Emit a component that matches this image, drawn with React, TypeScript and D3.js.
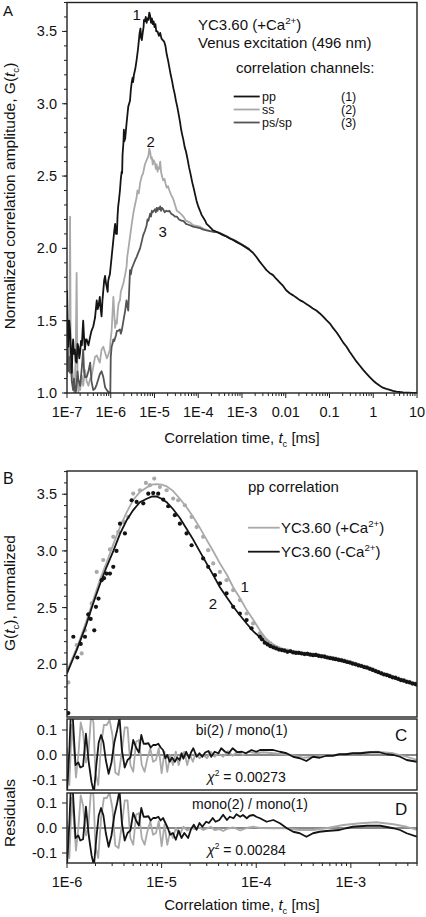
import React from "react";
import * as d3 from "d3";

const FONT = "'Liberation Sans', Arial, Helvetica, sans-serif";

// ---------- Panel A data: [log10(tc / ms), G(tc)] ----------
const ppA: [number, number][] = [
  [-7.0, 1.71], [-6.985, 1.45], [-6.97, 1.32], [-6.95, 1.5], [-6.93, 1.43], [-6.91, 1.28], [-6.89, 1.14], [-6.875, 1.3],
  [-6.86, 1.37], [-6.84, 1.27], [-6.82, 1.3], [-6.8, 1.22], [-6.78, 1.21], [-6.76, 1.34], [-6.74, 1.32], [-6.72, 1.24],
  [-6.7, 1.28], [-6.68, 1.36], [-6.66, 1.33], [-6.645, 1.42], [-6.63, 1.5], [-6.61, 1.38], [-6.59, 1.3], [-6.57, 1.37],
  [-6.55, 1.37], [-6.51, 1.33], [-6.47, 1.39], [-6.44, 1.43], [-6.4, 1.46], [-6.36, 1.52], [-6.32, 1.64], [-6.3, 1.58],
  [-6.28, 1.6], [-6.25, 1.665], [-6.23, 1.58], [-6.21, 1.53], [-6.19, 1.64], [-6.17, 1.71], [-6.15, 1.78], [-6.13, 1.81],
  [-6.11, 1.76], [-6.09, 1.73], [-6.07, 1.7], [-6.06, 1.77], [-6.04, 1.8], [-6.02, 1.82], [-6.0, 1.88], [-5.98, 1.94],
  [-5.96, 2.0], [-5.94, 2.06], [-5.92, 2.12], [-5.9, 2.17], [-5.88, 2.1], [-5.86, 2.1], [-5.845, 2.22], [-5.83, 2.29],
  [-5.81, 2.34], [-5.79, 2.4], [-5.77, 2.48], [-5.75, 2.53], [-5.74, 2.52], [-5.73, 2.65], [-5.71, 2.73], [-5.7, 2.82],
  [-5.69, 2.74], [-5.67, 2.76], [-5.64, 2.86], [-5.6, 2.98], [-5.56, 3.02], [-5.54, 3.1], [-5.52, 3.15], [-5.5, 3.18],
  [-5.49, 3.15], [-5.47, 3.2], [-5.44, 3.24], [-5.41, 3.3], [-5.38, 3.37], [-5.36, 3.43], [-5.34, 3.49], [-5.32, 3.52],
  [-5.31, 3.46], [-5.29, 3.44], [-5.27, 3.49], [-5.25, 3.53], [-5.24, 3.58], [-5.22, 3.57], [-5.2, 3.6], [-5.18, 3.56],
  [-5.16, 3.59], [-5.14, 3.58], [-5.12, 3.63], [-5.1, 3.61], [-5.08, 3.56], [-5.06, 3.59], [-5.04, 3.55], [-5.02, 3.57],
  [-5.0, 3.53], [-4.98, 3.55], [-4.96, 3.5], [-4.93, 3.5], [-4.9, 3.47], [-4.87, 3.49], [-4.84, 3.45], [-4.81, 3.44],
  [-4.78, 3.43], [-4.75, 3.4], [-4.72, 3.34], [-4.69, 3.3], [-4.66, 3.25], [-4.63, 3.2], [-4.6, 3.16], [-4.57, 3.11],
  [-4.54, 3.07], [-4.51, 3.02], [-4.48, 2.98], [-4.45, 2.93], [-4.42, 2.88], [-4.39, 2.82], [-4.37, 2.79], [-4.34, 2.75],
  [-4.31, 2.7], [-4.28, 2.67], [-4.24, 2.61], [-4.21, 2.56], [-4.18, 2.52], [-4.14, 2.46], [-4.1, 2.41], [-4.07, 2.37],
  [-4.04, 2.33], [-4.0, 2.29], [-3.96, 2.26], [-3.92, 2.23], [-3.88, 2.21], [-3.84, 2.19], [-3.81, 2.17], [-3.76, 2.155],
  [-3.71, 2.14], [-3.66, 2.125], [-3.62, 2.12], [-3.55, 2.11], [-3.48, 2.1], [-3.42, 2.09], [-3.35, 2.082], [-3.28, 2.068],
  [-3.2, 2.058], [-3.13, 2.045], [-3.05, 2.032], [-2.98, 2.02], [-2.9, 2.005], [-2.83, 1.99], [-2.75, 1.97], [-2.67, 1.94],
  [-2.6, 1.91], [-2.52, 1.88], [-2.44, 1.85], [-2.37, 1.83], [-2.29, 1.815], [-2.22, 1.79], [-2.14, 1.765], [-2.06, 1.74],
  [-1.99, 1.71], [-1.91, 1.69], [-1.83, 1.675], [-1.76, 1.66], [-1.68, 1.642], [-1.6, 1.63], [-1.53, 1.615], [-1.45, 1.6],
  [-1.38, 1.585], [-1.3, 1.57], [-1.22, 1.55], [-1.15, 1.53], [-1.07, 1.504], [-0.99, 1.48], [-0.92, 1.45], [-0.84, 1.42],
  [-0.77, 1.389], [-0.69, 1.35], [-0.61, 1.32], [-0.54, 1.285], [-0.46, 1.251], [-0.39, 1.22], [-0.31, 1.19], [-0.23, 1.16],
  [-0.16, 1.136], [-0.08, 1.11], [0.0, 1.085], [0.07, 1.067], [0.15, 1.05], [0.22, 1.037], [0.3, 1.028], [0.38, 1.021],
  [0.45, 1.015], [0.53, 1.01], [0.61, 1.007], [0.68, 1.005], [0.8, 1.003], [0.9, 1.001], [1.0, 1.0],
];

const ssA: [number, number][] = [
  [-7.0, 1.11], [-6.985, 1.36], [-6.97, 1.3], [-6.95, 1.26], [-6.93, 2.22], [-6.915, 1.3], [-6.9, 1.15], [-6.89, 1.22],
  [-6.86, 1.1], [-6.84, 1.0], [-6.82, 1.04], [-6.8, 1.3], [-6.78, 1.83], [-6.76, 1.1], [-6.74, 1.0], [-6.72, 1.08],
  [-6.7, 1.02], [-6.66, 1.12], [-6.63, 1.05], [-6.59, 1.16], [-6.55, 1.08], [-6.51, 1.05], [-6.47, 1.1], [-6.44, 1.11],
  [-6.4, 1.18], [-6.36, 1.25], [-6.32, 1.26], [-6.28, 1.23], [-6.25, 1.21], [-6.21, 1.3], [-6.17, 1.32], [-6.13, 1.28],
  [-6.09, 1.24], [-6.06, 1.26], [-6.02, 1.3], [-6.0, 1.38], [-5.98, 1.43], [-5.96, 1.55], [-5.94, 1.665], [-5.92, 1.55],
  [-5.9, 1.45], [-5.88, 1.5], [-5.86, 1.48], [-5.84, 1.57], [-5.82, 1.62], [-5.79, 1.64], [-5.77, 1.7], [-5.75, 1.72],
  [-5.71, 1.76], [-5.67, 1.82], [-5.64, 1.87], [-5.62, 1.95], [-5.6, 1.99], [-5.56, 2.08], [-5.52, 2.17], [-5.48, 2.25],
  [-5.44, 2.31], [-5.41, 2.35], [-5.39, 2.4], [-5.36, 2.38], [-5.33, 2.45], [-5.29, 2.5], [-5.26, 2.52], [-5.22, 2.58],
  [-5.18, 2.61], [-5.14, 2.64], [-5.12, 2.69], [-5.1, 2.67], [-5.08, 2.62], [-5.06, 2.63], [-5.04, 2.58], [-5.02, 2.61],
  [-4.99, 2.59], [-4.97, 2.55], [-4.95, 2.58], [-4.93, 2.53], [-4.91, 2.56], [-4.89, 2.55], [-4.87, 2.6], [-4.85, 2.53],
  [-4.83, 2.5], [-4.8, 2.47], [-4.77, 2.48], [-4.75, 2.45], [-4.72, 2.42], [-4.69, 2.43], [-4.66, 2.4], [-4.62, 2.37],
  [-4.57, 2.34], [-4.53, 2.3], [-4.49, 2.26], [-4.44, 2.25], [-4.37, 2.23], [-4.34, 2.22], [-4.28, 2.19], [-4.19, 2.18],
  [-4.12, 2.16], [-4.04, 2.155], [-3.96, 2.15], [-3.88, 2.135], [-3.81, 2.128], [-3.73, 2.12], [-3.66, 2.115],
  [-3.55, 2.113], [-3.42, 2.095], [-3.28, 2.073], [-3.13, 2.05], [-2.98, 2.025], [-2.83, 1.995],
];

const psA: [number, number][] = [
  [-7.0, 1.21], [-6.985, 1.32], [-6.97, 1.15], [-6.95, 1.25], [-6.93, 1.14], [-6.91, 1.2], [-6.89, 1.08], [-6.86, 1.02],
  [-6.84, 1.1], [-6.82, 1.02], [-6.8, 1.0], [-6.78, 1.06], [-6.76, 1.15], [-6.74, 1.09], [-6.7, 1.05], [-6.66, 1.18],
  [-6.63, 1.3], [-6.61, 1.15], [-6.59, 1.11], [-6.55, 1.11], [-6.51, 1.15], [-6.47, 1.21], [-6.44, 1.08], [-6.4, 1.02],
  [-6.36, 1.03], [-6.32, 1.06], [-6.28, 1.1], [-6.25, 1.13], [-6.21, 1.15], [-6.17, 1.11], [-6.13, 1.04], [-6.09, 1.02],
  [-6.06, 1.01], [-6.03, 1.0], [-6.01, 1.0], [-6.0, 1.25], [-5.98, 1.32], [-5.96, 1.34], [-5.94, 1.37], [-5.92, 1.36],
  [-5.9, 1.38], [-5.88, 1.4], [-5.86, 1.43], [-5.83, 1.43], [-5.79, 1.44], [-5.77, 1.41], [-5.75, 1.43], [-5.71, 1.5],
  [-5.67, 1.57], [-5.64, 1.64], [-5.62, 1.6], [-5.6, 1.57], [-5.58, 1.7], [-5.56, 1.85], [-5.54, 1.82], [-5.52, 1.86],
  [-5.48, 1.89], [-5.44, 1.92], [-5.41, 1.94], [-5.37, 1.97], [-5.33, 2.0], [-5.29, 2.05], [-5.26, 2.09], [-5.22, 2.12],
  [-5.18, 2.16], [-5.16, 2.2], [-5.14, 2.19], [-5.1, 2.24], [-5.08, 2.22], [-5.06, 2.26], [-5.04, 2.25], [-4.99, 2.27],
  [-4.97, 2.25], [-4.95, 2.28], [-4.93, 2.26], [-4.91, 2.28], [-4.89, 2.27], [-4.87, 2.29], [-4.85, 2.26], [-4.83, 2.28],
  [-4.8, 2.27], [-4.77, 2.25], [-4.73, 2.26], [-4.69, 2.255], [-4.66, 2.26], [-4.62, 2.24], [-4.57, 2.23], [-4.53, 2.22],
  [-4.49, 2.22], [-4.44, 2.2], [-4.37, 2.19], [-4.34, 2.19], [-4.28, 2.17], [-4.19, 2.16], [-4.12, 2.15], [-4.04, 2.145],
  [-3.96, 2.14], [-3.88, 2.13], [-3.81, 2.125], [-3.73, 2.12], [-3.66, 2.115], [-3.55, 2.11], [-3.42, 2.092],
  [-3.28, 2.07], [-3.13, 2.048], [-2.98, 2.022], [-2.83, 1.993],
];

const xTicksA = [1e-7, 1e-6, 1e-5, 1e-4, 1e-3, 0.01, 0.1, 1, 10];
const xTickLabelsA = ["1E-7", "1E-6", "1E-5", "1E-4", "1E-3", "0.01", "0.1", "1", "10"];
const yTicksA = [1.0, 1.5, 2.0, 2.5, 3.0, 3.5];
const yTickLabelsA = ["1.0", "1.5", "2.0", "2.5", "3.0", "3.5"];

// ---------- Panel B data ----------
const fitPlus: [number, number][] = [
  [-6.0, 1.94], [-5.95, 2.04], [-5.9, 2.14], [-5.863, 2.22], [-5.8, 2.37], [-5.722, 2.57], [-5.65, 2.75], [-5.581, 2.9],
  [-5.51, 3.06], [-5.44, 3.21], [-5.37, 3.34], [-5.3, 3.45], [-5.23, 3.52], [-5.158, 3.56], [-5.1, 3.585], [-5.053, 3.59],
  [-5.0, 3.585], [-4.947, 3.57], [-4.88, 3.53], [-4.807, 3.46], [-4.74, 3.39], [-4.666, 3.3], [-4.6, 3.21], [-4.525, 3.1],
  [-4.45, 2.99], [-4.384, 2.89], [-4.31, 2.79], [-4.244, 2.68], [-4.17, 2.58], [-4.102, 2.48], [-4.03, 2.39], [-3.962, 2.3],
  [-3.9, 2.23], [-3.85, 2.19], [-3.754, 2.145], [-3.66, 2.12], [-3.579, 2.105], [-3.49, 2.092], [-3.402, 2.082],
  [-3.31, 2.067], [-3.226, 2.052], [-3.14, 2.037], [-3.051, 2.022], [-2.96, 2.002], [-2.874, 1.982], [-2.79, 1.957],
  [-2.698, 1.927], [-2.61, 1.902], [-2.523, 1.878], [-2.43, 1.852], [-2.346, 1.832], [-2.303, 1.822],
];
const fitMinus: [number, number][] = [
  [-6.0, 1.92], [-5.95, 2.02], [-5.9, 2.12], [-5.863, 2.2], [-5.8, 2.34], [-5.722, 2.54], [-5.65, 2.71], [-5.581, 2.86],
  [-5.51, 3.0], [-5.44, 3.15], [-5.37, 3.27], [-5.3, 3.36], [-5.23, 3.43], [-5.158, 3.46], [-5.1, 3.48], [-5.053, 3.48],
  [-5.0, 3.46], [-4.947, 3.43], [-4.88, 3.37], [-4.807, 3.29], [-4.74, 3.2], [-4.666, 3.1], [-4.6, 3.0], [-4.525, 2.89],
  [-4.45, 2.78], [-4.384, 2.68], [-4.31, 2.59], [-4.244, 2.51], [-4.17, 2.43], [-4.102, 2.36], [-4.03, 2.29], [-3.962, 2.24],
  [-3.9, 2.19], [-3.85, 2.16], [-3.754, 2.13], [-3.66, 2.11], [-3.579, 2.1], [-3.49, 2.09], [-3.402, 2.08], [-3.31, 2.065],
  [-3.226, 2.05], [-3.14, 2.035], [-3.051, 2.02], [-2.96, 2.0], [-2.874, 1.98], [-2.79, 1.955], [-2.698, 1.925],
  [-2.61, 1.9], [-2.523, 1.876], [-2.43, 1.85], [-2.346, 1.83], [-2.303, 1.82],
];
const ptsPlus: [number, number][] = [
  [-5.986, 1.84], [-5.898, 2.17], [-5.845, 2.096], [-5.81, 2.3], [-5.739, 2.537], [-5.686, 2.815], [-5.617, 2.92],
  [-5.546, 3.013], [-5.511, 3.124], [-5.458, 3.168], [-5.405, 3.256], [-5.353, 3.3], [-5.3, 3.506], [-5.229, 3.535],
  [-5.166, 3.6], [-5.124, 3.58], [-5.078, 3.638], [-5.018, 3.564], [-4.947, 3.535], [-4.878, 3.462], [-4.825, 3.447],
  [-4.754, 3.403], [-4.683, 3.3], [-4.63, 3.21], [-4.561, 3.124], [-4.508, 3.007], [-4.455, 2.89], [-4.384, 2.815],
  [-4.314, 2.742], [-4.244, 2.654], [-4.173, 2.566], [-4.102, 2.448], [-4.033, 2.36], [-3.962, 2.273],
  [-3.94, 2.25], [-3.91, 2.22], [-3.88, 2.2], [-3.85, 2.185], [-3.82, 2.165], [-3.79, 2.15], [-3.76, 2.14], [-3.73, 2.13],
  [-3.7, 2.125], [-3.67, 2.12], [-3.64, 2.118], [-3.61, 2.11], [-3.58, 2.105], [-3.55, 2.104], [-3.52, 2.098],
  [-3.49, 2.095], [-3.46, 2.095], [-3.43, 2.088], [-3.4, 2.085], [-3.37, 2.086], [-3.34, 2.078], [-3.31, 2.074],
  [-3.28, 2.072], [-3.25, 2.064], [-3.22, 2.06], [-3.19, 2.054], [-3.16, 2.05], [-3.13, 2.044], [-3.1, 2.04],
  [-3.07, 2.032], [-3.04, 2.025], [-3.01, 2.019], [-2.98, 2.01], [-2.95, 2.004], [-2.92, 1.995], [-2.89, 1.989],
  [-2.86, 1.98], [-2.83, 1.974], [-2.8, 1.965], [-2.77, 1.955], [-2.74, 1.945], [-2.71, 1.934], [-2.68, 1.925],
  [-2.65, 1.915], [-2.62, 1.909], [-2.59, 1.9], [-2.56, 1.889], [-2.53, 1.885], [-2.5, 1.875], [-2.47, 1.865],
  [-2.44, 1.86], [-2.41, 1.85], [-2.38, 1.845], [-2.35, 1.835], [-2.32, 1.83],
];
const ptsMinus: [number, number][] = [
  [-5.986, 1.57], [-5.933, 2.243], [-5.891, 2.06], [-5.855, 2.18], [-5.81, 2.243], [-5.775, 2.44], [-5.75, 2.4],
  [-5.712, 2.3], [-5.694, 2.507], [-5.667, 2.58], [-5.634, 2.742], [-5.609, 2.76], [-5.581, 2.8], [-5.546, 2.8],
  [-5.511, 2.86], [-5.477, 3.0], [-5.44, 3.24], [-5.388, 3.154], [-5.317, 3.447], [-5.264, 3.432], [-5.194, 3.42],
  [-5.141, 3.505], [-5.089, 3.51], [-5.036, 3.505], [-4.983, 3.453], [-4.93, 3.394], [-4.86, 3.315], [-4.807, 3.24],
  [-4.736, 3.154], [-4.683, 3.05], [-4.561, 2.934], [-4.508, 2.86], [-4.437, 2.786], [-4.384, 2.713], [-4.314, 2.625],
  [-4.244, 2.507], [-4.173, 2.448], [-4.102, 2.39], [-4.05, 2.317], [-3.962, 2.243],
  [-3.94, 2.22], [-3.91, 2.19], [-3.88, 2.175], [-3.85, 2.16], [-3.82, 2.15], [-3.79, 2.14], [-3.76, 2.13], [-3.73, 2.125],
  [-3.7, 2.12], [-3.67, 2.11], [-3.64, 2.115], [-3.61, 2.105], [-3.58, 2.1], [-3.55, 2.1], [-3.52, 2.095], [-3.49, 2.09],
  [-3.46, 2.092], [-3.43, 2.085], [-3.4, 2.08], [-3.37, 2.083], [-3.34, 2.075], [-3.31, 2.07], [-3.28, 2.068],
  [-3.25, 2.06], [-3.22, 2.055], [-3.19, 2.05], [-3.16, 2.045], [-3.13, 2.04], [-3.1, 2.035], [-3.07, 2.028],
  [-3.04, 2.02], [-3.01, 2.015], [-2.98, 2.005], [-2.95, 2.0], [-2.92, 1.99], [-2.89, 1.985], [-2.86, 1.975],
  [-2.83, 1.97], [-2.8, 1.96], [-2.77, 1.95], [-2.74, 1.94], [-2.71, 1.93], [-2.68, 1.92], [-2.65, 1.91], [-2.62, 1.905],
  [-2.59, 1.895], [-2.56, 1.885], [-2.53, 1.88], [-2.5, 1.87], [-2.47, 1.86], [-2.44, 1.855], [-2.41, 1.845],
  [-2.38, 1.84], [-2.35, 1.83], [-2.32, 1.825], [-2.3, 1.82],
];

const xTicksB = [1e-6, 1e-5, 1e-4, 1e-3];
const xTickLabelsB = ["1E-6", "1E-5", "1E-4", "1E-3"];
const yTicksB = [2.0, 2.5, 3.0, 3.5];
const yTickLabelsB = ["2.0", "2.5", "3.0", "3.5"];

// ---------- Residuals ----------
const resLeftBlack: [number, number][] = [
  [-6.0, -0.15], [-5.975, 0.02], [-5.96, 0.16], [-5.94, 0.16], [-5.91, -0.04], [-5.88, -0.03], [-5.86, -0.05],
  [-5.83, -0.045], [-5.8, 0.085], [-5.77, -0.03], [-5.74, -0.11], [-5.715, -0.15], [-5.69, -0.04], [-5.665, 0.05],
  [-5.64, 0.08], [-5.615, 0.05], [-5.59, -0.02], [-5.56, -0.075], [-5.53, -0.03], [-5.5, 0.05], [-5.47, 0.1],
  [-5.445, 0.15], [-5.42, 0.02], [-5.39, -0.05], [-5.36, -0.02], [-5.33, -0.01], [-5.3, 0.06], [-5.27, 0.03],
  [-5.24, 0.01], [-5.215, 0.08], [-5.19, 0.045], [-5.165, 0.045], [-5.14, 0.047], [-5.115, 0.03], [-5.09, 0.04],
  [-5.06, 0.04], [-5.035, 0.045],
];
const resCBlack: [number, number][] = [
  ...resLeftBlack,
  [-5.01, 0.03], [-4.985, 0.02], [-4.96, -0.013], [-4.94, 0.0], [-4.915, -0.027], [-4.89, -0.01], [-4.86, -0.027],
  [-4.835, -0.01], [-4.81, -0.02], [-4.79, 0.007], [-4.77, -0.015], [-4.74, 0.013], [-4.71, -0.013], [-4.69, 0.01],
  [-4.665, 0.027], [-4.63, -0.007], [-4.6, 0.007], [-4.57, -0.007], [-4.54, 0.01], [-4.505, 0.016], [-4.475, -0.007],
  [-4.44, 0.013], [-4.4, 0.007], [-4.37, 0.027], [-4.33, 0.013], [-4.29, 0.007], [-4.25, 0.027], [-4.2, 0.011],
  [-4.15, 0.013], [-4.11, 0.007], [-4.05, 0.02], [-4.0, 0.013], [-3.96, 0.02], [-3.9, 0.02], [-3.82, 0.02],
  [-3.75, 0.013], [-3.68, 0.007], [-3.61, -0.007], [-3.54, -0.013], [-3.47, -0.024], [-3.4, -0.007], [-3.33, -0.011],
  [-3.26, -0.003], [-3.19, -0.003], [-3.12, 0.003], [-3.05, 0.003], [-2.98, 0.007], [-2.9, 0.007], [-2.8, 0.011],
  [-2.7, 0.011], [-2.62, 0.003], [-2.55, 0.0], [-2.48, -0.007], [-2.41, -0.02], [-2.303, -0.027],
];
const resLeftGray: [number, number][] = [
  [-6.0, 0.03], [-5.975, -0.12], [-5.95, 0.12], [-5.93, 0.04], [-5.905, -0.09], [-5.88, 0.0], [-5.855, 0.13],
  [-5.83, 0.09], [-5.8, -0.03], [-5.775, 0.0], [-5.745, 0.16], [-5.72, 0.13], [-5.7, -0.07], [-5.67, -0.12],
  [-5.64, 0.04], [-5.61, 0.12], [-5.58, 0.12], [-5.55, 0.14], [-5.52, 0.08], [-5.49, -0.07], [-5.455, -0.08],
  [-5.42, 0.013], [-5.39, 0.11], [-5.36, 0.11], [-5.33, -0.04], [-5.3, -0.067], [-5.27, 0.053], [-5.24, 0.06],
  [-5.21, -0.04], [-5.18, -0.067], [-5.15, -0.013], [-5.12, 0.027], [-5.09, -0.027], [-5.06, -0.02], [-5.03, 0.027],
];
const resCGray: [number, number][] = [
  ...resLeftGray,
  [-5.0, -0.073], [-4.97, 0.013], [-4.94, -0.067], [-4.91, 0.0], [-4.88, -0.04], [-4.85, 0.013], [-4.82, -0.04],
  [-4.79, 0.0], [-4.76, 0.013], [-4.73, -0.04], [-4.7, 0.0], [-4.67, -0.027], [-4.64, 0.007], [-4.6, -0.013],
  [-4.56, 0.0], [-4.52, -0.013], [-4.48, 0.013], [-4.44, -0.007], [-4.4, 0.007], [-4.35, -0.007], [-4.3, 0.016],
  [-4.25, -0.003], [-4.2, 0.013], [-4.14, 0.0], [-4.08, 0.013], [-4.0, 0.007], [-3.93, 0.011], [-3.82, 0.007],
  [-3.72, 0.003], [-3.61, 0.0], [-3.5, -0.011], [-3.4, -0.007], [-3.26, -0.003], [-3.08, 0.003], [-2.9, 0.008],
  [-2.73, 0.013], [-2.55, 0.007], [-2.41, -0.007], [-2.303, -0.02],
];
const resDBlack: [number, number][] = [
  ...resLeftBlack,
  [-5.01, 0.03], [-4.985, 0.04], [-4.96, 0.02], [-4.935, 0.0], [-4.91, -0.027], [-4.88, -0.02], [-4.85, -0.047],
  [-4.82, -0.01], [-4.79, -0.04], [-4.76, -0.02], [-4.72, -0.04], [-4.69, -0.005], [-4.66, 0.013], [-4.63, -0.007],
  [-4.6, 0.02], [-4.57, 0.005], [-4.53, 0.025], [-4.5, 0.02], [-4.46, 0.04], [-4.43, 0.025], [-4.39, 0.032],
  [-4.35, 0.053], [-4.31, 0.032], [-4.28, 0.045], [-4.24, 0.039], [-4.21, 0.055], [-4.17, 0.045], [-4.14, 0.052],
  [-4.1, 0.039], [-4.07, 0.049], [-4.03, 0.052], [-4.0, 0.045], [-3.96, 0.039], [-3.89, 0.025], [-3.82, 0.032],
  [-3.75, 0.019], [-3.68, 0.0], [-3.61, -0.015], [-3.54, -0.021], [-3.47, -0.035], [-3.4, -0.021], [-3.33, -0.015],
  [-3.26, -0.012], [-3.12, -0.008], [-3.05, -0.001], [-2.98, 0.005], [-2.83, 0.009], [-2.69, 0.009], [-2.55, -0.001],
  [-2.48, -0.008], [-2.41, -0.021], [-2.303, -0.035],
];
const resDGray: [number, number][] = [
  ...resLeftGray,
  [-5.0, -0.073], [-4.97, 0.013], [-4.94, -0.067], [-4.91, -0.015], [-4.88, -0.04], [-4.85, 0.0], [-4.81, -0.028],
  [-4.77, 0.005], [-4.73, -0.01], [-4.69, 0.0], [-4.65, -0.005], [-4.6, 0.002], [-4.56, -0.008], [-4.52, -0.002],
  [-4.48, 0.005], [-4.44, -0.008], [-4.39, -0.004], [-4.35, -0.012], [-4.3, -0.002], [-4.24, 0.002], [-4.17, -0.01],
  [-4.1, 0.0], [-4.03, 0.005], [-3.96, 0.0], [-3.82, -0.001], [-3.68, -0.001], [-3.54, -0.008], [-3.4, -0.008],
  [-3.26, -0.001], [-3.08, 0.012], [-2.9, 0.019], [-2.73, 0.023], [-2.55, 0.015], [-2.41, 0.005], [-2.303, -0.008],
];
const yTicksRes = [0.1, 0.0, -0.1];
const yTickLabelsRes = ["0.1", "0.0", "-0.1"];

const legendA = [
  { lbl: "pp", n: "(1)" },
  { lbl: "ss", n: "(2)" },
  { lbl: "ps/sp", n: "(3)" },
];

// ---------- colours ----------
const BLACK = "#141414";
const LIGHT = "#a9a9a9";
const DARK = "#545454";
const FRAME = "#222";
const legendAColors = [BLACK, LIGHT, DARK];

// ---------- layout ----------
const L = 67, R = 417;
const A = { top: 2.5, bottom: 393 };
const B = { top: 471, bottom: 717 };
const C = { top: 719, bottom: 790 };
const D = { top: 793, bottom: 863 };

const xA = d3.scaleLog().domain([1e-7, 10]).range([L, R]);
const yA = d3.scaleLinear().domain([1.0, 3.7]).range([A.bottom, A.top]);
const xB = d3.scaleLog().domain([1e-6, 5e-3]).range([L, R]);
const yB = d3.scaleLinear().domain([1.535, 3.705]).range([B.bottom, B.top]);
const yC = d3.scaleLinear().domain([-0.14, 0.144]).range([C.bottom, C.top]);
const yD = d3.scaleLinear().domain([-0.14, 0.14]).range([D.bottom, D.top]);

const t = (lg: number) => Math.pow(10, lg);

function mkLine(x: any, y: any) {
  return d3
    .line<[number, number]>()
    .x((d) => x(t(d[0])))
    .y((d) => y(d[1]));
}

function LogTicksX({ x, y0, majors, labels, labelY }: any) {
  const all = x.ticks();
  const isMajor = (v: number) => Math.abs(Math.log10(v) - Math.round(Math.log10(v))) < 1e-6;
  return (
    <g>
      {all.map((v: number, i: number) => (
        <line key={i} x1={x(v)} x2={x(v)} y1={y0} y2={y0 + (isMajor(v) ? 5 : 3)} stroke={FRAME} strokeWidth={1} />
      ))}
      {labels &&
        majors.map((v: number, i: number) => (
          <text key={"l" + i} x={x(v)} y={labelY} textAnchor="middle" fontSize={14.5} fill="#111">
            {labels[i]}
          </text>
        ))}
    </g>
  );
}

function TicksY({ y, majors, labels, minors }: any) {
  return (
    <g>
      {(minors || []).map((v: number, i: number) => (
        <line key={"m" + i} x1={L - 3} x2={L} y1={y(v)} y2={y(v)} stroke={FRAME} strokeWidth={1} />
      ))}
      {majors.map((v: number, i: number) => (
        <g key={i}>
          <line x1={L - 5} x2={L} y1={y(v)} y2={y(v)} stroke={FRAME} strokeWidth={1} />
          <text x={57} y={y(v) + 5} textAnchor="end" fontSize={14.5} fill="#111">
            {labels[i]}
          </text>
        </g>
      ))}
    </g>
  );
}

function Frame({ top, bottom }: any) {
  return <rect x={L} y={top} width={R - L} height={bottom - top} fill="none" stroke={FRAME} strokeWidth={1.4} />;
}

export default function App() {
  const lineA = mkLine(xA, yA);
  const lineB = mkLine(xB, yB);
  const lineC = mkLine(xB, yC);
  const lineD = mkLine(xB, yD);
  const minorA = yA.ticks(27);
  const minorB = yB.ticks(22).filter((v) => v >= 1.54);

  const sub = (c: string) => (
    <>
      <tspan fontStyle="italic">t</tspan>
      <tspan fontSize="0.62em" dy={4}>
        {c}
      </tspan>
    </>
  );

  const legY = [96.5, 109.5, 122.5];

  return (
    <svg
      width={426}
      height={917}
      viewBox="0 0 426 917"
      style={{ display: "block", position: "absolute", left: 0, top: 0, fontFamily: FONT }}
    >
      <rect x={0} y={0} width={426} height={917} fill="#fff" />
      <defs>
        <clipPath id="cA">
          <rect x={L} y={A.top} width={R - L} height={A.bottom - A.top} />
        </clipPath>
        <clipPath id="cB">
          <rect x={L} y={B.top} width={R - L} height={B.bottom - B.top} />
        </clipPath>
        <clipPath id="cC">
          <rect x={L} y={C.top} width={R - L} height={C.bottom - C.top} />
        </clipPath>
        <clipPath id="cD">
          <rect x={L} y={D.top} width={R - L} height={D.bottom - D.top} />
        </clipPath>
      </defs>

      {/* ===== Panel A ===== */}
      <text x={3} y={16} fontSize={15} fill="#111">A</text>
      <g clipPath="url(#cA)" fill="none" strokeLinejoin="round">
        <path d={lineA(ssA) || ""} stroke={LIGHT} strokeWidth={1.8} />
        <path d={lineA(psA) || ""} stroke={DARK} strokeWidth={1.8} />
        <path d={lineA(ppA) || ""} stroke={BLACK} strokeWidth={1.8} />
      </g>
      <Frame top={A.top} bottom={A.bottom} />
      <TicksY y={yA} majors={yTicksA} labels={yTickLabelsA} minors={minorA} />
      <LogTicksX x={xA} y0={A.bottom} majors={xTicksA} labels={xTickLabelsA} labelY={417} />
      <text x={(L + R) / 2} y={443} textAnchor="middle" fontSize={15} fill="#111">
        Correlation time, {sub("c")}
        <tspan dy={-4}> [ms]</tspan>
      </text>
      <text transform="translate(15,196) rotate(-90)" textAnchor="middle" fontSize={15.5} fill="#111">
        Normalized correlation amplitude, G({sub("c")}
        <tspan dy={-4}>)</tspan>
      </text>

      <text x={136.7} y={20} textAnchor="middle" fontSize={15} fill="#111">1</text>
      <text x={150.7} y={147} textAnchor="middle" fontSize={15} fill="#111">2</text>
      <text x={162.7} y={237} textAnchor="middle" fontSize={15} fill="#111">3</text>

      <text x={198} y={30} fontSize={15} fill="#111">
        YC3.60 (+Ca<tspan fontSize="0.65em" dy={-6}>2+</tspan>
        <tspan dy={6}>)</tspan>
      </text>
      <text x={198} y={48} fontSize={15} fill="#111">Venus excitation (496 nm)</text>
      <text x={236} y={73} fontSize={15} fill="#111">correlation channels:</text>
      {legendA.map((d, i) => (
        <g key={i}>
          <line x1={233.7} x2={259.7} y1={legY[i]} y2={legY[i]} stroke={legendAColors[i]} strokeWidth={1.8} />
          <text x={262} y={legY[i] + 4} fontSize={12.5} fill="#111">{d.lbl}</text>
          <text x={341} y={legY[i] + 4} fontSize={12.5} fill="#111">{d.n}</text>
        </g>
      ))}

      {/* ===== Panel B ===== */}
      <text x={3} y={484} fontSize={16} fill="#111">B</text>
      <g clipPath="url(#cB)">
        {ptsPlus.map((d, i) => (
          <circle key={"p" + i} cx={xB(t(d[0]))} cy={yB(d[1])} r={2.1} fill={LIGHT} />
        ))}
        <path d={lineB(fitPlus) || ""} fill="none" stroke={LIGHT} strokeWidth={1.8} />
        {ptsMinus.map((d, i) => (
          <circle key={"m" + i} cx={xB(t(d[0]))} cy={yB(d[1])} r={2.1} fill={BLACK} />
        ))}
        <path d={lineB(fitMinus) || ""} fill="none" stroke={BLACK} strokeWidth={1.8} />
      </g>
      <Frame top={B.top} bottom={B.bottom} />
      <TicksY y={yB} majors={yTicksB} labels={yTickLabelsB} minors={minorB} />
      <text transform="translate(15,593) rotate(-90)" textAnchor="middle" fontSize={15.5} fill="#111">
        G({sub("c")}
        <tspan dy={-4}>), normalized</tspan>
      </text>
      <text x={248} y={492} fontSize={15} fill="#111">pp correlation</text>
      {[
        { c: LIGHT, y: 527.7, sgn: "+" },
        { c: BLACK, y: 551.7, sgn: "-" },
      ].map((d, i) => (
        <g key={i}>
          <line x1={248} x2={279.7} y1={d.y} y2={d.y} stroke={d.c} strokeWidth={1.8} />
          <text x={281} y={d.y + 5.5} fontSize={15} fill="#111">
            YC3.60 ({d.sgn}Ca<tspan fontSize="0.65em" dy={-6}>2+</tspan>
            <tspan dy={6}>)</tspan>
          </text>
        </g>
      ))}
      <text x={244.7} y={592} textAnchor="middle" fontSize={15} fill="#111">1</text>
      <text x={213} y={608.5} textAnchor="middle" fontSize={15} fill="#111">2</text>

      {/* ===== Panel C ===== */}
      <g clipPath="url(#cC)" fill="none" strokeLinejoin="round">
        <line x1={L} x2={R} y1={yC(0)} y2={yC(0)} stroke={BLACK} strokeWidth={1} />
        <path d={lineC(resCGray) || ""} stroke={LIGHT} strokeWidth={1.8} />
        <path d={lineC(resCBlack) || ""} stroke={BLACK} strokeWidth={1.8} />
      </g>
      <Frame top={C.top} bottom={C.bottom} />
      <TicksY y={yC} majors={yTicksRes} labels={yTickLabelsRes} />
      <text x={241.7} y={735} textAnchor="middle" fontSize={14} fill="#111">bi(2) / mono(1)</text>
      <text x={395} y={741} fontSize={17} fill="#111">C</text>
      <text x={207} y={782} fontSize={14} fill="#111">
        <tspan fontStyle="italic">χ</tspan>
        <tspan fontSize="0.6em" dy={-6}>2</tspan>
        <tspan dy={6}> = 0.00273</tspan>
      </text>

      {/* ===== Panel D ===== */}
      <g clipPath="url(#cD)" fill="none" strokeLinejoin="round">
        <line x1={L} x2={R} y1={yD(0)} y2={yD(0)} stroke={BLACK} strokeWidth={1} />
        <path d={lineD(resDGray) || ""} stroke={LIGHT} strokeWidth={1.8} />
        <path d={lineD(resDBlack) || ""} stroke={BLACK} strokeWidth={1.8} />
      </g>
      <Frame top={D.top} bottom={D.bottom} />
      <TicksY y={yD} majors={yTicksRes} labels={yTickLabelsRes} />
      <text x={250} y={808.5} textAnchor="middle" fontSize={14} fill="#111">mono(2) / mono(1)</text>
      <text x={395} y={814.5} fontSize={17} fill="#111">D</text>
      <text x={207} y={855} fontSize={14} fill="#111">
        <tspan fontStyle="italic">χ</tspan>
        <tspan fontSize="0.6em" dy={-6}>2</tspan>
        <tspan dy={6}> = 0.00284</tspan>
      </text>
      <LogTicksX x={xB} y0={D.bottom} majors={xTicksB} labels={xTickLabelsB} labelY={887} />
      <text transform="translate(15,813) rotate(-90)" textAnchor="middle" fontSize={15.5} fill="#111">
        Residuals
      </text>
      <text x={(L + R) / 2} y={910} textAnchor="middle" fontSize={15} fill="#111">
        Correlation time, {sub("c")}
        <tspan dy={-4}> [ms]</tspan>
      </text>
    </svg>
  );
}
